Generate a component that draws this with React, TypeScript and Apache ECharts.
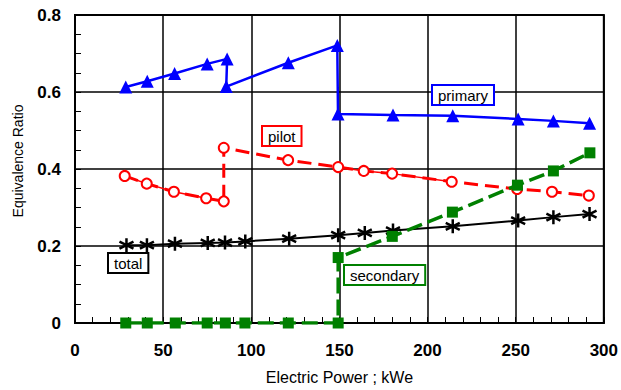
import React, { useEffect, useRef } from "react";
import * as echarts from "echarts";

// Electric power (kWe) and equivalence ratio readings
const primaryX = [28.8, 41, 56.5, 75, 86.3, 85.8, 121, 148.8, 149.2, 180.4, 214.3, 251.4, 271.4, 291.9];
const primaryY = [0.613, 0.628, 0.648, 0.673, 0.686, 0.614, 0.676, 0.721, 0.543, 0.54, 0.538, 0.53, 0.525, 0.519];

const pilotX = [28.2, 40.7, 56.1, 74.4, 84.4, 84.4, 120.9, 149.3, 163.8, 179.9, 213.7, 250.8, 270.6, 291.5];
const pilotY = [0.382, 0.362, 0.341, 0.324, 0.316, 0.455, 0.423, 0.405, 0.395, 0.388, 0.367, 0.348, 0.341, 0.331];

const totalX = [29.2, 40.8, 56.7, 75.3, 85.1, 96.6, 121.5, 149.3, 164.4, 180.4, 214.3, 251.4, 271.4, 291.9];
const totalY = [0.202, 0.202, 0.206, 0.208, 0.209, 0.212, 0.219, 0.228, 0.234, 0.24, 0.251, 0.266, 0.275, 0.283];

const secondaryX = [28.8, 41, 56.9, 75, 85.3, 96.4, 121, 149.3, 149.3, 180, 214.1, 251, 271.4, 292.1];
const secondaryY = [0, 0, 0, 0, 0, 0, 0, 0, 0.17, 0.225, 0.288, 0.358, 0.395, 0.442];

const xTicks = [0, 50, 100, 150, 200, 250, 300];
const yTicks = [0, 0.2, 0.4, 0.6, 0.8];

const seriesLabels = ["primary", "pilot", "total", "secondary"];
const xTitle = "Electric Power ; kWe";
const yTitle = "Equivalence Ratio";

const FONT = "'Liberation Sans', Arial, Helvetica, sans-serif";

const zip = (xs: number[], ys: number[]) => xs.map((x, i) => [x, ys[i]]);

const ASTERISK = "path://M0,-10 L0,10 M-8.66,-5 L8.66,5 M-8.66,5 L8.66,-5";

export default function App() {
  const ref = useRef<HTMLDivElement>(null);

  useEffect(() => {
    if (!ref.current) return;
    const chart = echarts.init(ref.current, undefined, { renderer: "svg" });

    const primary = zip(primaryX, primaryY);
    const pilot = zip(pilotX, pilotY);
    const total = zip(totalX, totalY);
    const secondary = zip(secondaryX, secondaryY);

    const box = (text: string, color: string, x: number, y: number) => ({
      type: "text",
      x,
      y,
      z: 100,
      style: {
        text,
        fill: "#000",
        font: `15px ${FONT}`,
        backgroundColor: "#fff",
        borderColor: color,
        borderWidth: 2,
        padding: [2, 5, 1, 5],
      },
    });

    chart.setOption({
      animation: false,
      backgroundColor: "#fff",
      grid: {
        left: 75,
        right: 15,
        top: 15,
        bottom: 64,
        show: true,
        borderColor: "#000",
        borderWidth: 2,
        backgroundColor: "transparent",
      },
      xAxis: {
        type: "value",
        min: xTicks[0],
        max: xTicks[xTicks.length - 1],
        interval: 50,
        name: xTitle,
        nameLocation: "middle",
        nameGap: 46,
        nameTextStyle: { fontFamily: FONT, fontSize: 16, color: "#000" },
        axisLine: { show: true, lineStyle: { color: "#000", width: 2 } },
        axisTick: { show: true, inside: true, length: 6, lineStyle: { color: "#000", width: 1 } },
        minorTick: { show: true, splitNumber: 5, length: 6, lineStyle: { color: "#000", width: 1 } },
        splitLine: { show: true, lineStyle: { color: "#000", width: 1.5 } },
        axisLabel: {
          fontFamily: FONT,
          fontSize: 17,
          fontWeight: "bold",
          color: "#000",
          margin: 19,
        },
      },
      yAxis: {
        type: "value",
        min: yTicks[0],
        max: yTicks[yTicks.length - 1],
        interval: 0.2,
        axisLine: { show: true, lineStyle: { color: "#000", width: 2 } },
        axisTick: { show: true, inside: true, length: 6, lineStyle: { color: "#000", width: 1 } },
        minorTick: { show: true, splitNumber: 4, length: 6, lineStyle: { color: "#000", width: 1 } },
        splitLine: { show: true, lineStyle: { color: "#000", width: 1.5 } },
        axisLabel: {
          fontFamily: FONT,
          fontSize: 17,
          fontWeight: "bold",
          color: "#000",
          margin: 14,
          padding: [6, 0, 0, 0],
          formatter: (v: number) => (v === 0 ? "0" : v.toFixed(1)),
        },
      },
      graphic: [
        {
          type: "text",
          x: 18,
          y: 161,
          rotation: Math.PI / 2,
          style: {
            text: yTitle,
            fill: "#000",
            font: `14px ${FONT}`,
            align: "center",
            verticalAlign: "middle",
          },
        },
        box(seriesLabels[0], "#0000ff", 433, 86),
        box(seriesLabels[1], "#ff0000", 263, 127),
        box(seriesLabels[2], "#000000", 109, 254),
        box(seriesLabels[3], "#008000", 345, 266),
      ],
      series: [
        {
          name: "total",
          type: "line",
          data: total,
          z: 3,
          symbol: ASTERISK,
          symbolSize: 14,
          itemStyle: { color: "#000", borderColor: "#000", borderWidth: 2.5 },
          lineStyle: { color: "#000", width: 2 },
        },
        {
          name: "pilot-dash",
          type: "line",
          data: pilot,
          z: 4,
          symbol: "none",
          lineStyle: { color: "#ff0000", width: 3, type: [14, 7] },
        },
        {
          name: "pilot-a",
          type: "line",
          data: pilot.slice(0, 5),
          z: 4,
          symbol: "none",
          lineStyle: { color: "#ff0000", width: 1.5 },
        },
        {
          name: "pilot-b",
          type: "line",
          data: pilot.slice(7, 11),
          z: 4,
          symbol: "none",
          lineStyle: { color: "#ff0000", width: 1.5 },
        },
        {
          name: "pilot",
          type: "line",
          data: pilot,
          z: 5,
          symbol: "emptyCircle",
          symbolSize: 10,
          itemStyle: { color: "#ff0000", borderColor: "#ff0000", borderWidth: 2 },
          lineStyle: { width: 0, opacity: 0 },
        },
        {
          name: "primary",
          type: "line",
          data: primary,
          z: 6,
          symbol: "triangle",
          symbolSize: 13,
          itemStyle: { color: "#0000ff" },
          lineStyle: { color: "#0000ff", width: 2.5 },
        },
        {
          name: "secondary",
          type: "line",
          data: secondary,
          z: 7,
          symbol: "rect",
          symbolSize: 11,
          itemStyle: { color: "#008000" },
          lineStyle: { color: "#008000", width: 3.5, type: [16, 6] },
        },
      ],
    });

    return () => chart.dispose();
  }, []);

  return <div ref={ref} style={{ width: 621, height: 390, position: "absolute", left: 0, top: 0 }} />;
}
